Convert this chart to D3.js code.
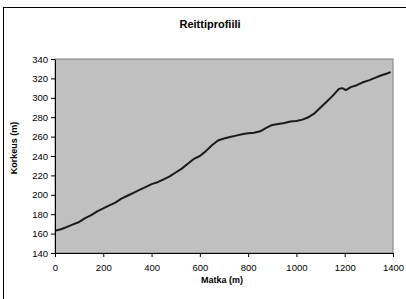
<!DOCTYPE html>
<html>
<head>
<meta charset="utf-8">
<script src="https://cdn.jsdelivr.net/npm/d3@7"></script>
<style>
  body { margin: 0; background: #fff; }
  svg { display: block; font-family: "Liberation Sans", Arial, sans-serif; }
</style>
</head>
<body>
<svg id="chart" width="406" height="299"></svg>
<script>
// Route profile: distance (m) and elevation (m)
const distance = [0, 25, 50, 75, 100, 125, 150, 175, 200, 225, 250, 275, 300, 325, 350, 375,
  400, 425, 450, 475, 500, 525, 550, 575, 600, 625, 650, 675, 700, 725, 750, 775, 800, 825,
  850, 875, 900, 925, 950, 975, 1000, 1025, 1050, 1075, 1100, 1125, 1150, 1175, 1190, 1205,
  1225, 1250, 1275, 1300, 1325, 1350, 1375, 1390];
const elevation = [163, 164.5, 167, 169.5, 172, 176, 179, 183, 186, 189, 192, 196, 199, 202, 205, 208,
  211, 213, 216, 219, 223, 227, 232, 237, 240, 245, 251, 256, 258, 259.5, 261, 262.5, 263.5, 264,
  265.5, 269, 272, 273, 274, 275.5, 276, 277.5, 280, 284, 290, 296, 302, 309, 310, 308,
  311, 313, 316, 318, 320.5, 323, 325, 326.5];
const xTicks = [0, 200, 400, 600, 800, 1000, 1200, 1400];
const yTicks = [140, 160, 180, 200, 220, 240, 260, 280, 300, 320, 340];

const svg = d3.select('#chart');
const plot = { left: 55, right: 393, top: 59, bottom: 253 };

// outer chart frame (cut off at right/bottom like the original)
svg.append('rect')
  .attr('x', 3.5).attr('y', 7.5)
  .attr('width', 420).attr('height', 320)
  .attr('fill', '#fff').attr('stroke', '#000').attr('stroke-width', 1);

const x = d3.scaleLinear().domain([0, 1400]).range([plot.left, plot.right]);
const y = d3.scaleLinear().domain([140, 340]).range([plot.bottom, plot.top]);

// plot area
svg.append('rect')
  .attr('x', plot.left).attr('y', plot.top)
  .attr('width', plot.right - plot.left).attr('height', plot.bottom - plot.top)
  .attr('fill', '#c0c0c0').attr('stroke', '#808080').attr('stroke-width', 1);

const line = d3.line()
  .x((d, i) => x(distance[i]))
  .y(d => y(d));

svg.append('path')
  .datum(elevation)
  .attr('d', line)
  .attr('fill', 'none')
  .attr('stroke', '#1a1a1a')
  .attr('stroke-width', 2)
  .attr('stroke-linejoin', 'round');

// axes
const xAxis = d3.axisBottom(x).tickValues(xTicks).tickFormat(d3.format('d'))
  .tickSize(4).tickPadding(7).tickSizeOuter(0);
const yAxis = d3.axisLeft(y).tickValues(yTicks).tickFormat(d3.format('d'))
  .tickSize(4).tickPadding(3).tickSizeOuter(0);

const gx = svg.append('g').attr('transform', `translate(0,${plot.bottom})`).call(xAxis);
const gy = svg.append('g').attr('transform', `translate(${plot.left},0)`).call(yAxis);

[gx, gy].forEach(g => {
  g.select('.domain').attr('stroke', '#000');
  g.selectAll('.tick line').attr('stroke', '#000');
  g.selectAll('.tick text')
    .attr('fill', '#000')
    .style('font-size', '9.5px')
    .style('font-family', '"Liberation Sans", Arial, sans-serif');
});

// titles
svg.append('text')
  .attr('x', 210).attr('y', 28)
  .attr('text-anchor', 'middle')
  .style('font-size', '11px').style('font-weight', 'bold')
  .text('Reittiprofiili');

svg.append('text')
  .attr('x', 222).attr('y', 283)
  .attr('text-anchor', 'middle')
  .style('font-size', '9px').style('font-weight', 'bold')
  .text('Matka (m)');

svg.append('text')
  .attr('transform', 'translate(17,148) rotate(-90)')
  .attr('text-anchor', 'middle')
  .style('font-size', '9px').style('font-weight', 'bold')
  .text('Korkeus (m)');
</script>
</body>
</html>
